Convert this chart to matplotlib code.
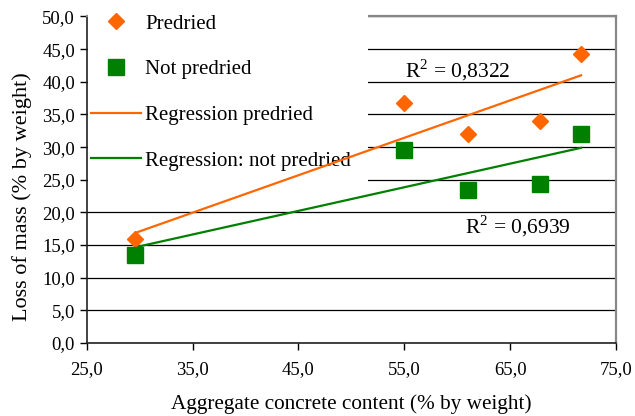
import matplotlib.pyplot as plt
from matplotlib.patches import Rectangle
import numpy as np

# dane
x_pts = [29.6, 55.0, 61.0, 67.8, 71.7]
y_predried = [15.9, 36.8, 32.0, 34.0, 44.2]
y_not_predried = [13.4, 29.6, 23.5, 24.4, 32.0]
r2_predried = "0,8322"
r2_not_predried = "0,6939"

orange = '#FF6600'
green = '#008000'

plt.rcParams['font.family'] = ['Liberation Serif', 'DejaVu Serif']
plt.rcParams['mathtext.fontset'] = 'custom'
plt.rcParams['mathtext.rm'] = 'Liberation Serif'

fig = plt.figure(figsize=(6.35, 4.16), dpi=100)
ax = fig.add_axes([86.7 / 635, 1 - 343 / 416, (616 - 86.7) / 635, (343 - 16.5) / 416])

# regresja liniowa
xa = np.array(x_pts)
p1 = np.polyfit(xa, y_predried, 1)
p2 = np.polyfit(xa, y_not_predried, 1)
xr = np.array([xa.min(), xa.max()])

ax.plot(xa, y_predried, 'D', color=orange, ms=7.8, mec=orange, label='Predried', zorder=4)
ax.plot(xa, y_not_predried, 's', color=green, ms=11.5, mec=green, label='Not predried', zorder=4)
ax.plot(xr, np.polyval(p1, xr), color=orange, lw=1.6, label='Regression predried', zorder=3)
ax.plot(xr, np.polyval(p2, xr), color=green, lw=1.6, label='Regression: not predried', zorder=3)

ax.set_xlim(25, 75)
ax.set_ylim(0, 50)
ax.set_xticks(np.arange(25, 76, 10))
ax.set_yticks(np.arange(0, 51, 5))
ax.set_xticklabels([f'{v:.1f}'.replace('.', ',') for v in np.arange(25, 76, 10)])
ax.set_yticklabels([f'{v:.1f}'.replace('.', ',') for v in np.arange(0, 51, 5)])
ax.tick_params(direction='out', length=5, width=1, labelsize=13.5, colors='black')
ax.tick_params(axis='x', pad=8)
ax.grid(axis='y', color='black', lw=0.9)
ax.set_axisbelow(True)

for s in ['left', 'bottom']:
    ax.spines[s].set_color('#222222')
    ax.spines[s].set_linewidth(1.2)
for s in ['top', 'right']:
    ax.spines[s].set_color('#888888')
    ax.spines[s].set_linewidth(1.6)

ax.set_xlabel('Aggregate concrete content (% by weight)', fontsize=15.3, labelpad=12)
ax.set_ylabel('Loss of mass (% by weight)', fontsize=16)
ax.yaxis.set_label_coords(-0.103, 0.447)

ax.text(55.1, 41.8, r'R$^2$ = ' + r2_predried, fontsize=15.5, va='center')
ax.text(60.7, 17.9, r'R$^2$ = ' + r2_not_predried, fontsize=15.5, va='center')

# białe tło legendy (zasłania siatkę, ale nie linie regresji)
bg = Rectangle((87.6 / 635, 1 - 188 / 416), (368 - 87.6) / 635, 188 / 416,
               transform=fig.transFigure, facecolor='white', edgecolor='none',
               zorder=2.85, clip_on=False)
ax.add_patch(bg)

leg = ax.legend(loc='upper left', bbox_to_anchor=(88 / 635, 1.0 - 11 / 416), bbox_transform=fig.transFigure,
                fontsize=15, frameon=False, handlelength=2.4,
                labelspacing=1.25, borderpad=0.15, handletextpad=0.2, borderaxespad=0)
leg.set_zorder(2.9)

plt.savefig('out.png', dpi=100)
